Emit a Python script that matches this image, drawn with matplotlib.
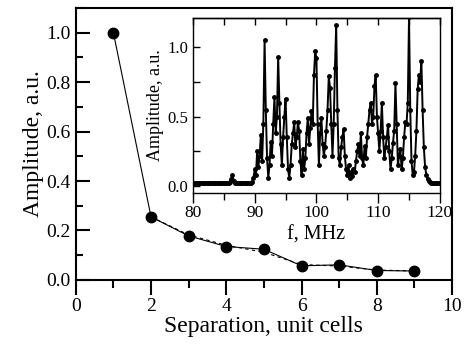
import numpy as np
import matplotlib.pyplot as plt
from matplotlib.ticker import MultipleLocator

plt.rcParams['font.family'] = ['Liberation Serif', 'DejaVu Serif']

# main panel: amplitude vs separation
sep = [1, 2, 3, 4, 5, 6, 7, 8, 9]
amp = [1.0, 0.255, 0.178, 0.135, 0.124, 0.057, 0.061, 0.038, 0.036]
sep_fit = [2, 3, 4, 5, 6, 7, 8, 9]
amp_fit = [0.255, 0.182, 0.14, 0.112, 0.062, 0.056, 0.040, 0.036]

# inset: spectrum, 0.2 MHz grid from 80 to 120 MHz
freq = np.linspace(80, 120, 201)
spec = [
    0.02, 0.02, 0.02, 0.02, 0.02, 0.02, 0.02, 0.02, 0.02, 0.02,   # 80.0 - 81.8
    0.02, 0.02, 0.02, 0.02, 0.02, 0.02, 0.02, 0.02, 0.02, 0.02,   # 82.0 - 83.8
    0.02, 0.02, 0.02, 0.02, 0.02, 0.02, 0.02, 0.02, 0.02, 0.02,   # 84.0 - 85.8
    0.03, 0.05, 0.08, 0.04, 0.02, 0.02, 0.02, 0.02, 0.02, 0.02,   # 86.0 - 87.8
    0.02, 0.02, 0.02, 0.02, 0.02, 0.02, 0.02, 0.02, 0.03, 0.06,   # 88.0 - 89.8
    0.12, 0.08, 0.25, 0.14, 0.22, 0.37, 0.18, 0.45, 1.05, 0.55,   # 90.0 - 91.8
    0.20, 0.06, 0.15, 0.32, 0.22, 0.45, 0.64, 0.38, 0.50, 0.93,   # 92.0 - 93.8
    0.60, 0.30, 0.15, 0.35, 0.50, 0.63, 0.35, 0.12, 0.06, 0.15,   # 94.0 - 95.8
    0.30, 0.38, 0.46, 0.28, 0.35, 0.46, 0.40, 0.18, 0.08, 0.27,   # 96.0 - 97.8
    0.12, 0.20, 0.38, 0.49, 0.30, 0.42, 0.54, 0.45, 0.80, 0.97,   # 98.0 - 99.8
    0.92, 0.45, 0.15, 0.38, 0.49, 0.30, 0.22, 0.28, 0.40, 0.55,   # 100.0 - 101.8
    0.79, 0.71, 0.45, 0.22, 0.45, 0.85, 1.16, 0.55, 0.20, 0.15,   # 102.0 - 103.8
    0.28, 0.35, 0.41, 0.22, 0.12, 0.08, 0.15, 0.06, 0.10, 0.07,   # 104.0 - 105.8
    0.12, 0.10, 0.18, 0.25, 0.30, 0.22, 0.38, 0.20, 0.15, 0.29,   # 106.0 - 107.8
    0.20, 0.35, 0.45, 0.55, 0.60, 0.45, 0.50, 0.72, 0.80, 0.50,   # 108.0 - 109.8
    0.38, 0.25, 0.40, 0.60, 0.35, 0.20, 0.28, 0.35, 0.44, 0.25,   # 110.0 - 111.8
    0.12, 0.20, 0.31, 0.40, 0.74, 0.45, 0.15, 0.22, 0.27, 0.12,   # 112.0 - 113.8
    0.20, 0.35, 0.46, 0.45, 0.60, 1.22, 0.55, 0.18, 0.08, 0.10,   # 114.0 - 115.8
    0.22, 0.40, 0.70, 0.80, 0.75, 0.90, 0.55, 0.28, 0.14, 0.08,   # 116.0 - 117.8
    0.05, 0.04, 0.03, 0.02, 0.02, 0.02, 0.02, 0.02, 0.02, 0.02,   # 118.0 - 119.8
    0.02,                                                         # 120.0
]

fig = plt.figure(figsize=(4.65, 3.49), dpi=100)
ax = fig.add_axes([0.163, 0.198, 0.809, 0.779])

ax.plot(sep_fit, amp_fit, color='black', lw=0.8, ls=(0, (3, 3)),
        marker='.', ms=2.5)
ax.plot(sep, amp, color='black', lw=0.8, marker='o', ms=7.5)

ax.set_xlim(0, 10)
ax.set_ylim(0, 1.1)
ax.xaxis.set_major_locator(MultipleLocator(2))
ax.xaxis.set_minor_locator(MultipleLocator(1))
ax.yaxis.set_major_locator(MultipleLocator(0.2))
ax.yaxis.set_minor_locator(MultipleLocator(0.1))
ax.yaxis.set_major_formatter(plt.FormatStrFormatter('%.1f'))
ax.tick_params(axis='x', which='major', direction='out', length=11, width=1.5,
               labelsize=14, pad=2)
ax.tick_params(axis='x', which='minor', direction='out', length=6, width=1.5)
ax.tick_params(axis='y', which='major', direction='in', length=10, width=1.5,
               labelsize=14)
ax.tick_params(axis='y', which='minor', direction='in', length=5, width=1.5)
for s in ax.spines.values():
    s.set_linewidth(1.5)
ax.set_xlabel('Separation, unit cells', fontsize=17, labelpad=1)
ax.set_ylabel('Amplitude, a.u.', fontsize=17, labelpad=2)

# inset
ins = fig.add_axes([0.415, 0.447, 0.531, 0.501])
ins.plot(freq, spec, color='black', lw=1.4, marker='o', ms=2.5)
ins.set_xlim(80, 120)
ins.set_ylim(-0.05, 1.21)
ins.xaxis.set_major_locator(MultipleLocator(10))
ins.xaxis.set_minor_locator(MultipleLocator(5))
ins.yaxis.set_major_locator(MultipleLocator(0.5))
ins.yaxis.set_minor_locator(MultipleLocator(0.25))
ins.yaxis.set_major_formatter(plt.FormatStrFormatter('%.1f'))
ins.tick_params(axis='y', which='both', direction='in', length=5, width=1,
                labelsize=12)
ins.tick_params(axis='x', which='major', direction='out', length=7, width=1,
                labelsize=12.5, pad=2)
ins.tick_params(axis='x', which='minor', direction='out', length=5, width=1)
top = ins.secondary_xaxis('top')
top.xaxis.set_major_locator(MultipleLocator(5))
top.tick_params(direction='in', length=5, width=1, labeltop=False)
for s in ins.spines.values():
    s.set_linewidth(1.0)
top.spines['top'].set_linewidth(1.0)
ins.set_xlabel('f, MHz', fontsize=14.5, labelpad=3)
ins.set_ylabel('Amplitude, a.u.', fontsize=13, labelpad=2)

fig.savefig('out.png', dpi=100)
